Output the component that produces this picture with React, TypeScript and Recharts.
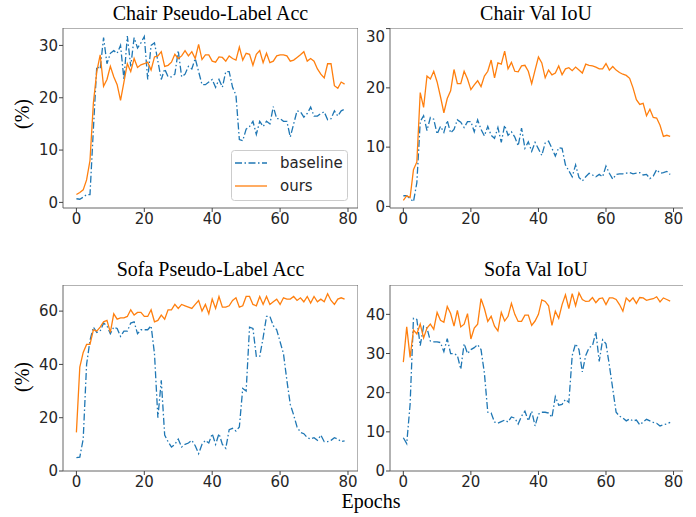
import React from 'react';
import { LineChart, Line, XAxis, YAxis, ReferenceArea, Legend } from 'recharts';

// x categories
const epochs = Array.from({ length: 80 }, (_, i) => i);
const xTicks = [0, 20, 40, 60, 80];

const chairAccBaseline = [
  0.7, 0.6, 1.0, 1.5, 1.5, 14, 26, 25.5, 31.5, 26.5,
  28.5, 29, 28.5, 30, 23.5, 31.8, 26, 31.5, 29.5, 30.5,
  31.7, 23.5, 30, 30.5, 27, 23.5, 25.5, 24, 24, 24.5,
  29, 24, 24.5, 26, 25.5, 27.5, 25, 22.5, 22.5, 23,
  23.5, 22, 23.5, 22, 25, 25, 22, 20.5, 12, 11.8,
  14, 14.5, 15.5, 13, 15.5, 14.5, 15.5, 15, 18.3, 16,
  16, 15.5, 15.5, 12.5, 15, 17.5, 17.3, 16.3, 17, 18.2,
  16.5, 16.5, 17, 17.3, 15.8, 16, 17.5, 16.5, 17.5, 17.8,
];
const chairAccOurs = [
  1.5, 1.9, 2.4, 4.3, 8, 19, 25, 28.2, 22.2, 23.5,
  26, 24, 22.5, 19.5, 23, 26.5, 25, 27.5, 25.8, 26.3,
  26.5, 26.8, 25.3, 27.8, 28, 28.8, 26, 26.2, 26.8, 28.3,
  27.5, 28, 29, 28, 28.8, 27.5, 30.2, 27.3, 28.2, 28.2,
  27, 26.8, 27.8, 27.7, 27, 28, 27.5, 27.2, 29.7, 27.2,
  28.5, 28.3, 26.2, 28.3, 29, 26.7, 28.5, 26.7, 27, 28,
  28.2, 28.2, 28, 27, 27.2, 27.7, 28.2, 28.8, 27, 27.5,
  27, 25.5, 24.5, 23.8, 26.5, 26.5, 22.3, 21.8, 23, 22.6,
];

const chairIouBaseline = [
  1.8, 1.8, 1.3, 0.8, 4, 14.3, 15.3, 12.8, 15, 14.7,
  12.2, 13.5, 12.5, 14.5, 12.4, 13, 14.6, 14.2, 13.3, 14.3,
  14.3, 12.6, 14.6, 13, 11.9, 13.5, 12, 11.5, 13.3, 10.8,
  13.7, 12, 12.6, 11.7, 10.2, 13.2, 9.8, 10.9, 9.3, 10.8,
  9.7, 8.6, 10.7, 11, 9.8, 8.5, 9.9, 9.8, 7, 6,
  5, 7, 4.9, 4.3, 5, 5.6, 5.3, 5, 5.4, 5,
  6.8, 5.6, 4.6, 5.4, 5.5, 5.5, 5.6, 5.7, 5.5, 5.6,
  5.7, 5.3, 5.4, 4.7, 5.1, 6.2, 5.6, 5.7, 5.9, 5.4,
];
const chairIouOurs = [
  1, 1.8, 1.5, 6.2, 7.5, 19.2, 16.7, 22, 21.5, 22.8,
  21, 18.5, 15.8, 18.2, 19.5, 23.1, 20.7, 20.7, 22.8, 21.5,
  19.7, 20.5, 21.2, 20.2, 22, 22.8, 24.7, 21.7, 24.2, 24,
  26.2, 23.2, 24.3, 22.8, 22.7, 23.7, 23.8, 22.8, 20.7, 23,
  25.2, 24.2, 21.7, 23, 22.2, 22.5, 23.7, 22.2, 23.2, 23.4,
  22.9, 23.5, 23, 22.5, 24, 23.8, 23.7, 23.5, 23.2, 23.2,
  24.1, 23, 23.6, 23, 22.6, 22.3, 22.1, 21.6, 20, 18,
  17.2, 17.4, 15.3, 16.4, 15, 14.9, 13.7, 11.8, 12, 11.8,
];

const sofaAccBaseline = [
  5, 5.2, 12, 40, 49, 54, 52, 52.5, 55.5, 54.5,
  51.5, 54, 53.5, 50.5, 52.5, 52.5, 55.5, 56, 51.5, 53,
  53, 53, 54.5, 44, 20, 34, 13.5, 11, 9, 10,
  12, 9, 10, 10.5, 11.5, 9.5, 6.5, 10, 11.5, 10.5,
  14, 10, 14, 10, 8.5, 15.5, 16, 15, 16.5, 31,
  30, 54, 53.5, 43, 43, 50, 58, 58, 54.5, 53,
  48.5, 44, 34, 25, 21, 16.5, 14.5, 14, 12.5, 12,
  12.5, 11.5, 13.5, 11, 11, 11.5, 12.5, 12, 11, 11.3,
];
const sofaAccOurs = [
  14.5, 39, 44.5, 47.5, 47.5, 53, 52.5, 54, 56, 56.5,
  52, 59, 57, 57.5, 57.5, 58, 60.5, 58.5, 59.5, 59.5,
  58, 58, 60.5, 56, 56.5, 58.5, 57, 60.5, 60.5, 62.5,
  61, 62.5, 62, 61.5, 61, 62.5, 64, 60, 62.5, 59,
  64.5, 61, 65.5, 61.5, 61.5, 62, 64, 65, 61.5, 62,
  65.5, 65.5, 62.5, 62, 65.5, 62.5, 65.5, 62.5, 63.5, 64.5,
  62.5, 65, 64.5, 64.5, 65.5, 64, 65, 63.5, 65.5, 63,
  65.5, 63.5, 64.5, 63.5, 66.5, 64, 62.5, 64.5, 65, 64.5,
];

const sofaIouBaseline = [
  8.5, 7, 17, 39, 38.7, 32, 37, 36.5, 33.2, 33,
  33, 32.8, 30.5, 33.8, 30, 30, 29.5, 26, 32.5, 30,
  31, 31.5, 32.3, 31, 25, 15, 14.8, 12.5, 12.2, 12.6,
  13, 12.5, 13.8, 13.5, 12, 14, 15.3, 12.8, 15.3, 11.5,
  14.5, 15, 15, 14.8, 13.7, 19, 16.8, 17, 18.3, 17.5,
  29.5, 32.5, 31, 25.3, 29.5, 31.5, 32, 35.5, 28, 33.5,
  32.5, 27, 21, 15, 14, 13.5, 12.8, 13.3, 12.8, 13,
  11.8, 12.5, 13.2, 12.8, 12.4, 12.2, 11.5, 11.8, 12, 12.4,
];
const sofaIouOurs = [
  27.8, 36.8, 29, 36, 35, 37.5, 34, 36.5, 37.5, 36.2,
  40.5, 38.5, 38, 42, 40.2, 37, 41, 36.8, 37.5, 40.2,
  33.7, 36.5, 37.5, 44, 41.5, 38.2, 39.5, 37, 35.8, 40.5,
  38.3, 39.5, 42.8, 40, 38.2, 38.2, 39.8, 39.8, 37.2, 38.3,
  40, 43.7, 43.3, 42.2, 37.2, 40.8, 39, 42.5, 45, 41.5,
  45.3, 42.2, 45.5, 43.8, 43.3, 43.4, 44.3, 43, 44, 44.2,
  42.5, 44.2, 44.2, 43.8, 42.5, 40.8, 44.2, 43.3, 44.2, 42.8,
  44.3, 44.2, 43.6, 43.8, 44, 44.5, 43.2, 44.2, 43.8, 43.4,
];

const BLUE = '#1f77b4';
const ORANGE = '#ff7f0e';
const DASH = '7 2.5 1.5 2.5';
const X_DOMAIN: [number, number] = [-3.95, 82.95];
const Y_AXIS_W = 50;
const X_AXIS_H = 30;
const tickStyle = { fontSize: 15, fill: '#262626', fontFamily: 'DejaVu Sans' };

const makeRows = (baseline: number[], ours: number[]) =>
  epochs.map((epoch, i) => ({ epoch, baseline: baseline[i], ours: ours[i] }));

function LegendBox({ payload }: { payload?: Array<{ value: string; color: string; payload?: { strokeDasharray?: string } }> }) {
  if (!payload) return null;
  return (
    <svg width={117} height={51} style={{ display: 'block' }}>
      <rect x={0.5} y={0.5} width={116} height={50} rx={3} fill="#fff" fillOpacity={0.8} stroke="#cccccc" />
      {payload.map((entry, i) => {
        const cy = 13 + 23 * i;
        return (
          <g key={entry.value}>
            <line x1={4} x2={36} y1={cy} y2={cy} stroke={entry.color} strokeWidth={1.3}
              strokeDasharray={entry.payload?.strokeDasharray} />
            <text x={49} y={cy + 5} fontSize={15} fontFamily="DejaVu Sans" fill="#262626">{entry.value}</text>
          </g>
        );
      })}
    </svg>
  );
}

interface PanelProps {
  left: number;
  top: number;
  width: number;
  height: number;
  data: Array<{ epoch: number; baseline: number; ours: number }>;
  yDomain: [number, number];
  yTicks: number[];
  showLegend?: boolean;
}

function Panel({ left, top, width, height, data, yDomain, yTicks, showLegend }: PanelProps) {
  return (
    <div style={{ position: 'absolute', left: left - Y_AXIS_W, top }}>
      <LineChart width={width + Y_AXIS_W} height={height + X_AXIS_H} data={data}
        margin={{ top: 0, right: 0, bottom: 0, left: 0 }}>
        <XAxis type="number" dataKey="epoch" domain={X_DOMAIN} ticks={xTicks} allowDataOverflow
          height={X_AXIS_H} tickSize={4} tickMargin={1} axisLine={false}
          tickLine={{ stroke: '#444' }} tick={tickStyle} />
        <YAxis type="number" domain={yDomain} ticks={yTicks} allowDataOverflow
          width={Y_AXIS_W} tickSize={4} tickMargin={1} axisLine={false}
          tickLine={{ stroke: '#444' }} tick={tickStyle} />
        <ReferenceArea x1={X_DOMAIN[0]} x2={X_DOMAIN[1]} y1={yDomain[0]} y2={yDomain[1]}
          fill="none" stroke="#666" strokeWidth={1} ifOverflow="visible" />
        <Line type="linear" dataKey="baseline" name="baseline" stroke={BLUE} strokeWidth={1.3}
          strokeDasharray={DASH} dot={false} activeDot={false} isAnimationActive={false} />
        <Line type="linear" dataKey="ours" name="ours" stroke={ORANGE} strokeWidth={1.3}
          dot={false} activeDot={false} isAnimationActive={false} />
        {showLegend && (
          <Legend layout="vertical" align="center" verticalAlign="middle" content={<LegendBox />}
            wrapperStyle={{ left: 218, top: 122, width: 117, height: 51 }} />
        )}
      </LineChart>
    </div>
  );
}

const serif = 'Liberation Serif, Times New Roman, serif';

export default function App() {
  return (
    <div style={{ position: 'absolute', left: 0, top: 0, width: 696, height: 517, background: '#fff' }}>
      <Panel left={63} top={28} width={295} height={180} data={makeRows(chairAccBaseline, chairAccOurs)}
        yDomain={[-1.07, 33.33]} yTicks={[0, 10, 20, 30]} showLegend />
      <Panel left={389.5} top={28} width={293.5} height={180} data={makeRows(chairIouBaseline, chairIouOurs)}
        yDomain={[-0.27, 30.1]} yTicks={[0, 10, 20, 30]} />
      <Panel left={63} top={285} width={295} height={186} data={makeRows(sofaAccBaseline, sofaAccOurs)}
        yDomain={[0, 69.8]} yTicks={[0, 20, 40, 60]} />
      <Panel left={389.5} top={285} width={293.5} height={186} data={makeRows(sofaIouBaseline, sofaIouOurs)}
        yDomain={[0, 47.5]} yTicks={[0, 10, 20, 30, 40]} />
      <svg width={696} height={517} style={{ position: 'absolute', left: 0, top: 0, pointerEvents: 'none' }}>
        <g fontFamily={serif} fontSize={20} fill="#000" textAnchor="middle">
          <text x={210.5} y={20}>Chair Pseudo-Label Acc</text>
          <text x={536} y={20}>Chair Val IoU</text>
          <text x={210.5} y={276}>Sofa Pseudo-Label Acc</text>
          <text x={536} y={276}>Sofa Val IoU</text>
          <text x={29} y={114} transform="rotate(-90 29 114)">(%)</text>
          <text x={29} y={377} transform="rotate(-90 29 377)">(%)</text>
          <text x={371} y={508}>Epochs</text>
        </g>
      </svg>
    </div>
  );
}
